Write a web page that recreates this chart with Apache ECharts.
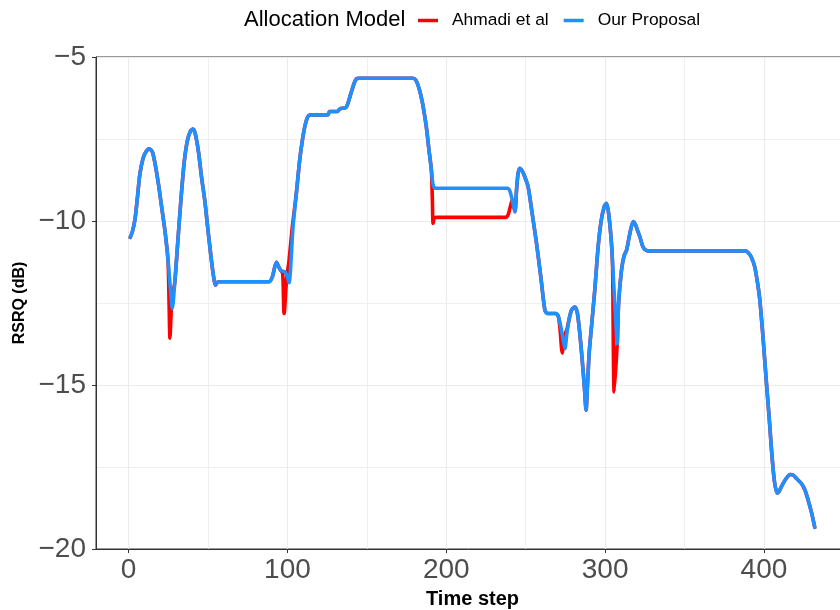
<!DOCTYPE html>
<html>
<head>
<meta charset="utf-8">
<script src="https://cdn.jsdelivr.net/npm/echarts@6/dist/echarts.min.js"></script>
<style>
  html, body { margin: 0; padding: 0; background: #ffffff; }
  #chart { width: 840px; height: 610px; }
</style>
</head>
<body>
<div id="chart"></div>
<script>
// Time steps and RSRQ (dB) for each allocation model
const stepsAhmadi = [1, 2.5, 4, 5.5, 7, 9, 11, 13, 15, 17, 19, 21, 23, 24.8, 25.5, 26, 27.3, 29, 31, 33, 35, 37, 39, 40.5, 42, 44, 46, 48, 50, 52, 53.5, 54.6, 56, 58, 88.5, 90.5, 92, 93.1, 94.5, 96, 97, 97.9, 99.5, 101, 103, 105.5, 107.7, 109.5, 111, 112.5, 114, 125.5, 126.5, 131.5, 133, 137, 140, 142, 143.5, 145, 179, 181, 183, 185, 187.4, 189, 190.6, 191.2, 191.7, 192.5, 194, 237.5, 239, 240, 241.5, 243.2, 244.3, 245.2, 246.3, 247.5, 249, 251.5, 254, 256.8, 259.5, 262, 263.5, 269, 270.5, 271.5, 273, 274.3, 276, 277.5, 279, 281, 282.5, 284, 285.5, 287, 288, 289, 290, 291.4, 293.5, 295.6, 297.5, 299.5, 300.9, 302.3, 304, 304.7, 305.7, 307.6, 308.5, 310.3, 312, 313.5, 315.5, 317.7, 319, 320.5, 321.9, 323.5, 325, 327, 388, 390, 392, 394.2, 396, 397.4, 399.5, 401.6, 403.3, 404.8, 406.5, 408.3, 409.5, 411.5, 414, 416.5, 418.5, 420.5, 423.7, 425.8, 427.9, 430, 432];
const rsrqAhmadi = [-10.5, -10.3, -9.95, -9.3, -8.6, -8.1, -7.88, -7.8, -7.9, -8.35, -8.95, -9.65, -10.35, -11.2, -12.6, -13.57, -12.3, -11.9, -10.6, -9.3, -8.2, -7.55, -7.25, -7.2, -7.35, -7.9, -8.7, -9.4, -10.3, -11.15, -11.7, -11.96, -11.86, -11.85, -11.85, -11.7, -11.4, -11.26, -11.4, -11.52, -11.6, -12.82, -11.75, -11.2, -10.2, -9.2, -8.14, -7.5, -7.1, -6.85, -6.77, -6.76, -6.66, -6.66, -6.58, -6.53, -6.1, -5.8, -5.66, -5.65, -5.65, -5.72, -5.98, -6.4, -7.12, -7.8, -8.44, -9.3, -10.07, -9.9, -9.89, -9.89, -9.8, -9.62, -9.36, -9.72, -9.0, -8.55, -8.39, -8.45, -8.6, -8.95, -9.75, -10.68, -11.7, -12.7, -12.82, -12.82, -12.9, -13.23, -14.02, -13.5, -13.3, -12.95, -12.7, -12.62, -12.8, -13.4, -14.2, -15.1, -15.77, -14.9, -14.0, -13.23, -12.1, -10.79, -10.0, -9.55, -9.46, -9.8, -10.68, -11.4, -15.21, -13.74, -12.5, -11.5, -11.05, -10.89, -10.4, -10.02, -10.1, -10.3, -10.48, -10.75, -10.87, -10.91, -10.91, -10.96, -11.1, -11.4, -11.9, -12.41, -13.6, -14.96, -16.0, -17.0, -17.9, -18.3, -18.25, -18.05, -17.85, -17.73, -17.75, -17.85, -18.01, -18.2, -18.52, -18.9, -19.34];

const stepsOurs = [1, 2.5, 4, 5.5, 7, 9, 11, 13, 15, 17, 19, 21, 23, 25, 26.5, 27.5, 29, 31, 33, 35, 37, 39, 40.5, 42, 44, 46, 48, 50, 52, 53.5, 54.6, 56, 58, 88.5, 90.5, 92, 93.1, 94.5, 96, 98.5, 100, 101, 103.5, 105.5, 107.7, 109.5, 111, 112.5, 114, 125.5, 126.5, 131.5, 133, 137, 140, 142, 143.5, 145, 179, 181, 183, 185, 187.4, 189, 190.6, 191.5, 192.7, 194, 238.5, 240, 241.5, 243.2, 244.3, 245.2, 246.3, 247.5, 249, 251.5, 254, 256.8, 259.5, 262, 263.5, 269, 270.5, 272, 273.5, 274.7, 276, 277.5, 279, 281, 282.5, 284, 285.5, 287, 288, 289, 290, 291.4, 293.5, 295.6, 297.5, 299.5, 300.9, 302.3, 304, 305.5, 306.5, 307.6, 308.5, 310.3, 312, 313.5, 315.5, 317.7, 319, 320.5, 321.9, 323.5, 325, 327, 388, 390, 392, 394.2, 396, 397.4, 399.5, 401.6, 403.3, 404.8, 406.5, 408.3, 409.5, 411.5, 414, 416.5, 418.5, 420.5, 423.7, 425.8, 427.9, 430, 432];
const rsrqOurs = [-10.5, -10.3, -9.95, -9.3, -8.6, -8.1, -7.88, -7.8, -7.9, -8.35, -8.95, -9.65, -10.35, -11.3, -12.2, -12.67, -11.9, -10.6, -9.3, -8.2, -7.55, -7.25, -7.2, -7.35, -7.9, -8.7, -9.4, -10.3, -11.15, -11.7, -11.96, -11.86, -11.85, -11.85, -11.7, -11.4, -11.26, -11.4, -11.52, -11.55, -11.7, -11.88, -10.18, -9.2, -8.14, -7.5, -7.1, -6.85, -6.77, -6.76, -6.66, -6.66, -6.58, -6.53, -6.1, -5.8, -5.66, -5.65, -5.65, -5.72, -5.98, -6.4, -7.12, -7.8, -8.44, -8.85, -9.0, -9.0, -9.0, -9.08, -9.35, -9.72, -9.0, -8.55, -8.39, -8.45, -8.6, -8.95, -9.75, -10.68, -11.7, -12.7, -12.82, -12.82, -12.9, -13.2, -13.6, -13.89, -13.4, -12.95, -12.7, -12.62, -12.8, -13.4, -14.2, -15.1, -15.77, -14.9, -14.0, -13.23, -12.1, -10.79, -10.0, -9.55, -9.46, -9.8, -10.68, -12.0, -12.9, -13.74, -12.5, -11.5, -11.05, -10.89, -10.4, -10.02, -10.1, -10.3, -10.48, -10.75, -10.87, -10.91, -10.91, -10.96, -11.1, -11.4, -11.9, -12.41, -13.6, -14.96, -16.0, -17.0, -17.9, -18.3, -18.25, -18.05, -17.85, -17.73, -17.75, -17.85, -18.01, -18.2, -18.52, -18.9, -19.34];

const xTicks = [0, 100, 200, 300, 400];
const xMinorTicks = [50, 150, 250, 350, 450];
const modelNames = ['Ahmadi et al', 'Our Proposal'];
const modelColors = ['#FF0000', '#1E90FF'];

const zip = (xs, ys) => xs.map((x, i) => [x, ys[i]]);

const gridColor = '#EBEBEB';
const tickTextColor = '#4D4D4D';
const minus = v => String(v).replace('-', '\u2212');

const chart = echarts.init(document.getElementById('chart'), null, { renderer: 'canvas' });

const lineSeries = (name, data, color) => ({
  name: name,
  type: 'line',
  data: data,
  smooth: 0.25,
  showSymbol: false,
  symbol: 'none',
  z: 3,
  lineStyle: { color: color, width: 3.6, join: 'round', cap: 'round' },
  itemStyle: { color: color },
  emphasis: { disabled: true },
  animation: false
});

chart.setOption({
  animation: false,
  backgroundColor: '#ffffff',
  textStyle: { fontFamily: 'Liberation Sans, Arial, sans-serif' },
  title: {
    text: 'Allocation Model',
    left: 244,
    top: 9,
    padding: 0,
    textStyle: { fontSize: 22, fontWeight: 'normal', color: '#000000' }
  },
  legend: {
    data: modelNames,
    left: 418,
    top: 12,
    padding: 0,
    itemWidth: 20,
    itemHeight: 3.5,
    itemGap: 15,
    icon: 'rect',
    textStyle: { fontSize: 17.4, color: '#000000', padding: [0, 0, 0, 9] },
    selectedMode: false
  },
  grid: {
    left: 96,
    top: 57,
    width: 753,
    height: 492,
    show: true,
    borderColor: '#333333',
    borderWidth: 1,
    containLabel: false,
    outerBoundsMode: 'none'
  },
  xAxis: {
    type: 'value',
    min: -20.55,
    max: 453.55,
    name: 'Time step',
    nameLocation: 'middle',
    nameGap: 40,
    nameTextStyle: { fontSize: 20, fontWeight: 'bold', color: '#000000' },
    axisLine: { show: true, onZero: false, lineStyle: { color: '#333333', width: 1 } },
    axisTick: { show: true, customValues: xTicks, length: 4, lineStyle: { color: '#333333' } },
    axisLabel: { customValues: xTicks, fontSize: 28, color: tickTextColor, margin: 7 },
    splitLine: { show: true, lineStyle: { color: gridColor, width: 1.1 } }
  },
  yAxis: {
    type: 'value',
    min: -20,
    max: -5,
    interval: 5,
    name: 'RSRQ (dB)',
    nameLocation: 'middle',
    nameRotate: 90,
    nameGap: 60,
    nameTextStyle: { fontSize: 16, fontWeight: 'bold', color: '#000000' },
    axisLine: { show: true, onZero: false, lineStyle: { color: '#333333', width: 1 } },
    axisTick: { show: true, length: 4, lineStyle: { color: '#333333' } },
    axisLabel: { fontSize: 28, color: tickTextColor, margin: 10, formatter: minus },
    splitLine: { show: true, lineStyle: { color: gridColor, width: 1.1 } },
    minorTick: { show: false, splitNumber: 2 },
    minorSplitLine: { show: true, lineStyle: { color: gridColor, width: 0.8 } }
  },
  series: [
    {
      name: 'minor-grid',
      type: 'line',
      data: [],
      z: 1,
      silent: true,
      markLine: {
        z: 1,
        silent: true,
        symbol: 'none',
        label: { show: false },
        animation: false,
        lineStyle: { color: gridColor, width: 0.8, type: 'solid' },
        data: xMinorTicks.map(v => ({ xAxis: v }))
      }
    },
    lineSeries(modelNames[0], zip(stepsAhmadi, rsrqAhmadi), modelColors[0]),
    lineSeries(modelNames[1], zip(stepsOurs, rsrqOurs), modelColors[1])
  ]
});
</script>
</body>
</html>
